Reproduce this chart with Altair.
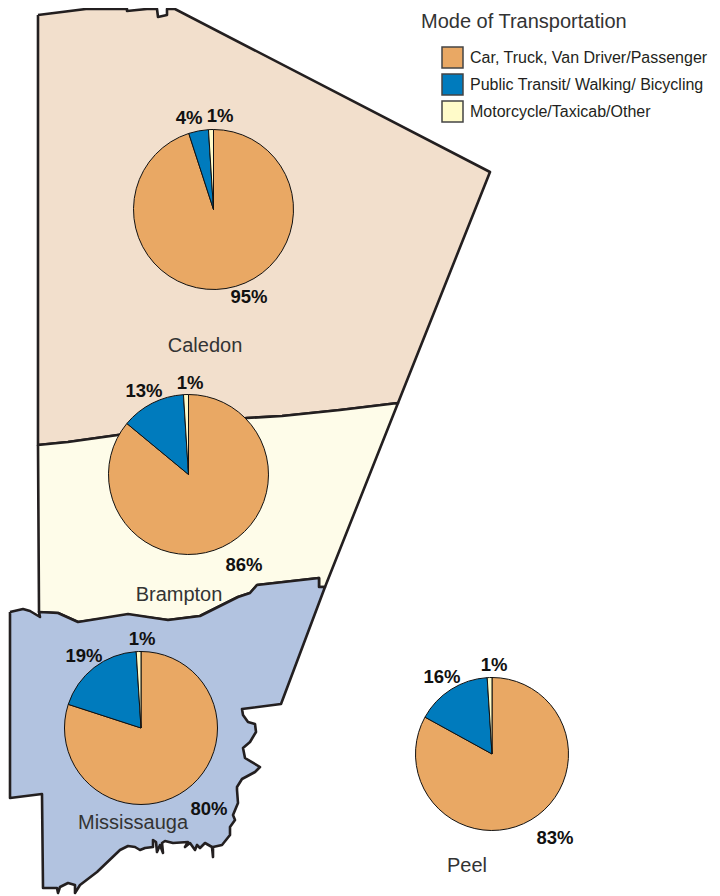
import math
import altair as alt
import pandas as pd

# ---- Map outlines (reference pixels) ----
caledon_x = [38, 86, 127, 127, 147, 147, 155, 157, 158, 167, 167, 175, 490, 398, 340, 282, 247, 118, 68, 38, 38]
caledon_y = [15, 9, 9, 11, 9, 9, 9, 9, 17, 15, 9, 9, 172, 403, 410, 416, 418, 435, 442, 445, 15]

brampton_x = [38, 68, 118, 247, 282, 340, 398, 325, 319, 319, 257, 250, 238, 200, 168, 130, 78, 58, 39, 38]
brampton_y = [445, 442, 435, 418, 416, 410, 403, 587, 587, 578, 585, 593, 597, 616, 620, 615, 622, 613, 612, 445]

miss_x = [10, 23, 30, 40, 39, 58, 78, 128, 168, 200, 238, 250, 257, 319, 319, 325, 281, 242, 243, 248, 255, 256, 250,
          243, 245, 260, 255, 242, 237, 237, 238, 233, 235, 230, 230, 222, 213, 213, 212, 205, 200, 197, 195, 190, 185,
          188, 173, 165, 162, 163, 160, 157, 156, 153, 153, 145, 140, 135, 128, 120, 97, 80, 75, 75, 68, 60, 58, 57,
          43, 42, 10, 10]
miss_y = [612, 609, 611, 617, 612, 613, 622, 614, 620, 616, 597, 593, 585, 578, 587, 587, 704, 709, 715, 722, 724, 732, 742,
          748, 758, 767, 772, 779, 787, 790, 803, 815, 820, 827, 835, 845, 847, 857, 847, 843, 848, 845, 850, 843, 847,
          842, 843, 841, 843, 853, 845, 852, 842, 840, 847, 848, 850, 847, 846, 850, 872, 885, 893, 885, 883, 887, 893, 888,
          888, 794, 798, 612]

# ---- Pies ----
modes = ["Car, Truck, Van Driver/Passenger", "Public Transit/ Walking/ Bicycling", "Motorcycle/Taxicab/Other"]
colors = ["#E9A864", "#007BBD", "#FFFBC9"]
pie_names = ["Caledon", "Brampton", "Mississauga", "Peel"]
pie_x = [213.5, 188.5, 141, 492]
pie_y = [209.5, 474.5, 728, 754]
pie_r = [80, 80, 76.5, 76.5]
pie_vals = [[95, 4, 1], [86, 13, 1], [80, 19, 1], [83, 16, 1]]

# ---- Text ----
pct_text = ["4%", "1%", "95%", "13%", "1%", "86%", "19%", "1%", "80%", "16%", "1%", "83%"]
pct_x = [189, 220, 249, 144, 190, 244, 84, 142, 209, 442, 494, 555]
pct_y = [118, 116, 297, 391, 383, 565, 656, 639, 809, 677, 665, 838]
name_text = ["Caledon", "Brampton", "Mississauga", "Peel"]
name_x = [205, 179, 133, 467]
name_y = [346, 595, 823, 866]
FONT = "Liberation Sans"

X = alt.X("x:Q", scale=alt.Scale(domain=[8, 712], nice=False, zero=False), axis=None)
Y = alt.Y("y:Q", scale=alt.Scale(domain=[896, 8], nice=False, zero=False), axis=None)


def region(xs, ys, fill):
    df = pd.DataFrame({"x": xs, "y": ys, "i": range(len(xs))})
    return alt.Chart(df).mark_line(fill=fill, stroke="#231F20", strokeWidth=2.6, clip=False,
                                   strokeJoin="round").encode(x=X, y=Y, order="i:Q")


def pie(k):
    df = pd.DataFrame({"mode": modes, "v": pie_vals[k], "o": [0, 1, 2],
                       "x": pie_x[k], "y": pie_y[k]})
    return alt.Chart(df).mark_arc(radius=pie_r[k], stroke="#111111", strokeWidth=1).encode(
        x=X, y=Y,
        theta=alt.Theta("v:Q", stack=True, scale=alt.Scale(domain=[0, 100], range=[0, 2 * math.pi])),
        order=alt.Order("o:Q"),
        color=alt.Color("mode:N", scale=alt.Scale(domain=modes, range=colors),
                        legend=alt.Legend(title=None, orient="none", legendX=433, legendY=38,
                                          symbolType="square", symbolSize=441, symbolStrokeColor="#444444",
                                          symbolStrokeWidth=1.5, symbolOpacity=1, labelFont=FONT, labelFontSize=16,
                                          labelColor="#231F20", labelLimit=400, rowPadding=0, labelOffset=6)),
    )


pct = alt.Chart(pd.DataFrame({"t": pct_text, "x": pct_x, "y": pct_y})).mark_text(
    font=FONT, fontWeight="bold", fontSize=18.5, color="#111111", baseline="middle", align="center"
).encode(x=X, y=Y, text="t:N")
names = alt.Chart(pd.DataFrame({"t": name_text, "x": name_x, "y": name_y})).mark_text(
    font=FONT, fontSize=20, color="#333333", baseline="middle", align="center"
).encode(x=X, y=Y, text="t:N")
title = alt.Chart(pd.DataFrame({"t": ["Mode of Transportation"], "x": [421], "y": [22]})).mark_text(
    font=FONT, fontSize=20, color="#333333", baseline="middle", align="left"
).encode(x=X, y=Y, text="t:N")

chart = alt.layer(
    region(caledon_x, caledon_y, "#F2DFCC"),
    region(brampton_x, brampton_y, "#FEFCE9"),
    region(miss_x, miss_y, "#B2C3E0"),
    pie(0), pie(1), pie(2), pie(3),
    pct, names, title,
).properties(width=704, height=888, padding=0, autosize=alt.AutoSizeParams(type="none")).configure_view(stroke=None)

chart.save("out.html", embed_options={"renderer": "svg", "actions": False})
